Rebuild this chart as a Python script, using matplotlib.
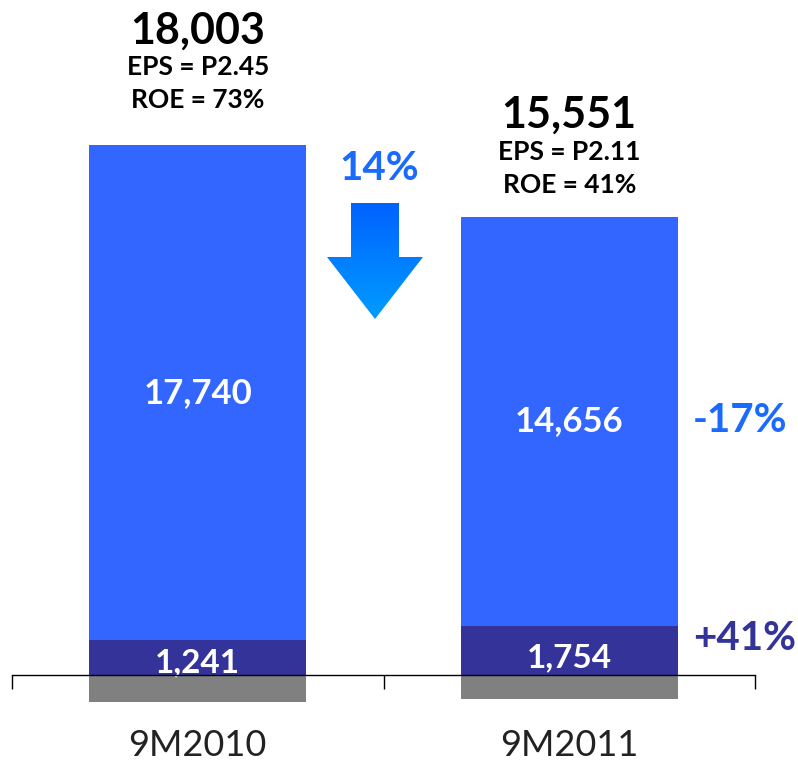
import matplotlib
matplotlib.use("Agg")
import matplotlib.pyplot as plt
import numpy as np
from matplotlib.colors import LinearSegmentedColormap
from matplotlib.patches import Polygon

# ---- data ----
categories = ["9M2010", "9M2011"]
top_values = [17740, 14656]        # main (bright blue) segment
bottom_values = [1241, 1754]       # dark segment
neg_values = [-978, -859]          # grey segment below axis
totals = [18003, 15551]
eps_labels = ["EPS = P2.45", "EPS = P2.11"]
roe_labels = ["ROE = 73%", "ROE = 41%"]
change_total = "14%"
change_top = "-17%"
change_bottom = "+41%"

W, H = 798, 761
fig = plt.figure(figsize=(W / 100, H / 100), dpi=100)
fig.patch.set_facecolor("white")
plt.rcParams["font.family"] = ["Lato", "DejaVu Sans"]

ax = fig.add_axes([12 / W, 0, 743 / W, 1])
scale = 0.02792  # px per unit
ymin = -86 / scale
ymax = ymin + H / scale

x = np.arange(len(categories))
bw = 0.585
c_top, c_bot, c_neg = "#3366FF", "#333399", "#808080"
ax.bar(x, bottom_values, bw, color=c_bot, zorder=2)
ax.bar(x, top_values, bw, bottom=bottom_values, color=c_top, zorder=2)
ax.bar(x, neg_values, bw, color=c_neg, zorder=2)

ax.set_xlim(-0.5, 1.5)
ax.set_ylim(ymin, ymax)
for s in ["top", "left", "right"]:
    ax.spines[s].set_visible(False)
ax.spines["bottom"].set_position(("data", 0))
ax.spines["bottom"].set_zorder(5)
ax.spines["bottom"].set_linewidth(1.0)
ax.set_axisbelow(False)
ax.set_yticks([])
ax.set_xticks([-0.5, 0.5, 1.5])
ax.set_xticklabels([])
ax.tick_params(axis="x", direction="out", length=10, width=1.0, color="black")
ax.patch.set_alpha(0)

def fp(px, py):
    return (px / W, 1 - py / H)

# category labels
for i, c in enumerate(categories):
    ax.annotate(c, xy=(x[i], 0), xycoords="data", xytext=(0, -70 * 0.72),
                textcoords="offset points", ha="center", va="center",
                fontsize=26, color="#222222")

# labels inside segments
for i in range(len(x)):
    ax.text(x[i], bottom_values[i] + top_values[i] * 0.5, f"{top_values[i]:,}",
            ha="center", va="center", color="white", fontsize=25, fontweight="bold")
    ax.text(x[i], bottom_values[i] * 0.36, f"{bottom_values[i]:,}",
            ha="center", va="center", color="white", fontsize=24, fontweight="bold", zorder=3)

# labels above bars
above_offsets = [(114, 78, 45), (102, 65, 32)]
for i in range(len(x)):
    top = bottom_values[i] + top_values[i]
    o_tot, o_eps, o_roe = above_offsets[i]
    ax.annotate(f"{totals[i]:,}", xy=(x[i], top), xytext=(0, o_tot * 0.72),
                textcoords="offset points", ha="center", va="center",
                fontsize=31, fontweight="bold", color="black")
    ax.annotate(eps_labels[i], xy=(x[i], top), xytext=(0, o_eps * 0.72),
                textcoords="offset points", ha="center", va="center",
                fontsize=19, fontweight="bold", color="black")
    ax.annotate(roe_labels[i], xy=(x[i], top), xytext=(0, o_roe * 0.72),
                textcoords="offset points", ha="center", va="center",
                fontsize=19, fontweight="bold", color="black")

# change labels
fig.text(*fp(379, 168), change_total, ha="center", va="center", fontsize=29,
         fontweight="bold", color="#1A6AFF")
fig.text(*fp(740, 420), change_top, ha="center", va="center", fontsize=29,
         fontweight="bold", color="#1A6AFF")
fig.text(*fp(745, 638), change_bottom, ha="center", va="center", fontsize=29,
         fontweight="bold", color="#333399")

# gradient arrow (in figure pixel space)
cx = 375
shaft_hw, head_hw = 24, 48
y_top, y_mid, y_tip = 203, 257, 319
pts_px = [(cx - shaft_hw, y_top), (cx + shaft_hw, y_top), (cx + shaft_hw, y_mid),
          (cx + head_hw, y_mid), (cx, y_tip), (cx - head_hw, y_mid), (cx - shaft_hw, y_mid)]
pts = [fp(a, b) for a, b in pts_px]
arrow_ax = fig.add_axes([0, 0, 1, 1], zorder=4)
arrow_ax.set_xlim(0, 1)
arrow_ax.set_ylim(0, 1)
arrow_ax.axis("off")
poly = Polygon(pts, closed=True, facecolor="none", edgecolor="none")
arrow_ax.add_patch(poly)
cmap = LinearSegmentedColormap.from_list("g", ["#0062FF", "#009CFF"])
grad = np.linspace(0, 1, 256).reshape(-1, 1)
im = arrow_ax.imshow(grad, cmap=cmap, aspect="auto", origin="upper",
                     extent=[fp(cx - head_hw, 0)[0], fp(cx + head_hw, 0)[0],
                             fp(0, y_tip)[1], fp(0, y_top)[1]])
im.set_clip_path(poly)

fig.savefig("out.png", dpi=100)
